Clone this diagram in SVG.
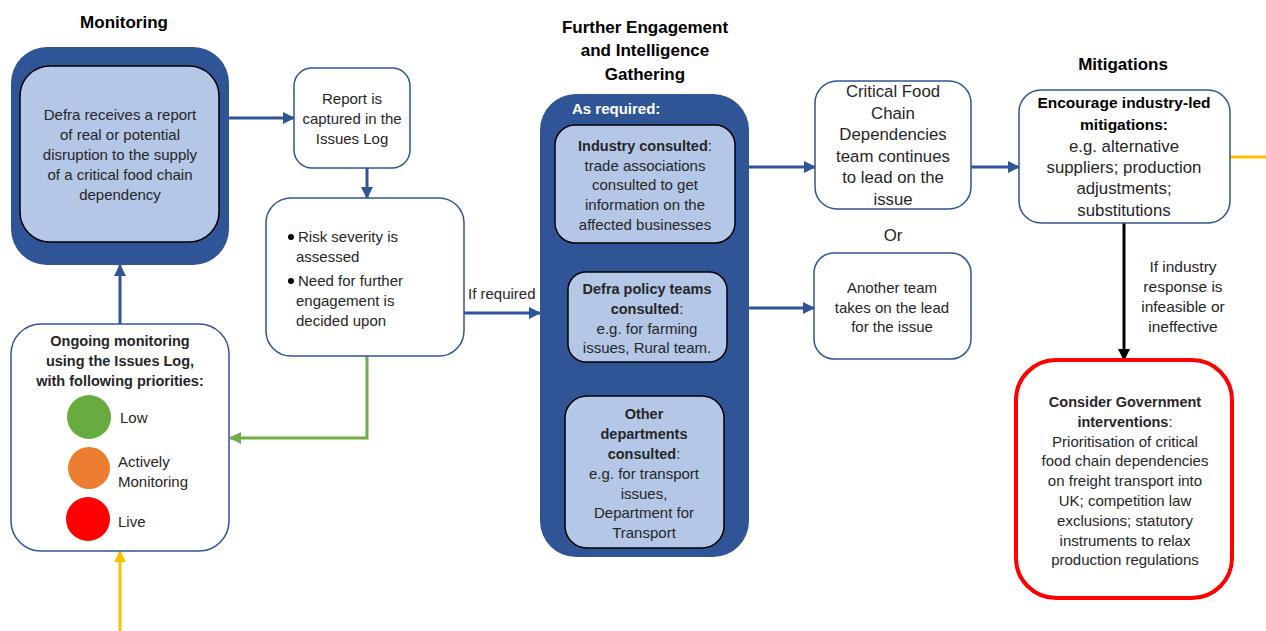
<svg xmlns="http://www.w3.org/2000/svg" width="1266" height="631" viewBox="0 0 1266 631">
<style>
text{font-family:"Liberation Sans",Arial,sans-serif;fill:#262626;text-anchor:middle;font-size:15px}
.h{font-weight:bold;font-size:17px;fill:#000}
.b{font-weight:bold;font-size:14.5px}
.l{text-anchor:start}
.w{fill:#fff;font-weight:bold;text-anchor:start;font-size:15px}
.box{fill:#fff;stroke:#2F5597;stroke-width:1.5}
.dark{fill:#2F5597}
.inner{fill:#B4C7E7;stroke:#000;stroke-width:1.5}
.cb{stroke:#2F5597;stroke-width:3;fill:none}
.cg{stroke:#70AD47;stroke-width:3;fill:none}
.cy{stroke:#FFC000;stroke-width:3;fill:none}
.ck{stroke:#000;stroke-width:3;fill:none}
.big{font-size:16.8px}
.bb{font-weight:bold;font-size:15.5px;fill:#000}
.s{font-size:15.5px}
</style>
<defs>
<marker id="ab" markerUnits="userSpaceOnUse" markerWidth="12" markerHeight="12" refX="11" refY="6" orient="auto"><path d="M0,0 L12,6 L0,12 Z" fill="#2F5597"/></marker>
<marker id="ag" markerUnits="userSpaceOnUse" markerWidth="12" markerHeight="12" refX="11" refY="6" orient="auto"><path d="M0,0 L12,6 L0,12 Z" fill="#70AD47"/></marker>
<marker id="ay" markerUnits="userSpaceOnUse" markerWidth="12" markerHeight="12" refX="11" refY="6" orient="auto"><path d="M0,0 L12,6 L0,12 Z" fill="#FFC000"/></marker>
<marker id="ak" markerUnits="userSpaceOnUse" markerWidth="12" markerHeight="12" refX="11" refY="6" orient="auto"><path d="M0,0 L12,6 L0,12 Z" fill="#000"/></marker>
</defs>

<g id="titles">
<text class="h" x="124" y="28">Monitoring</text>
<text class="h" x="645" y="33">Further Engagement</text>
<text class="h" x="645" y="56">and Intelligence</text>
<text class="h" x="645" y="80">Gathering</text>
<text class="h" x="1123" y="70">Mitigations</text>
</g>

<g id="connectors">
<line class="cb" x1="229" y1="118" x2="294" y2="118" marker-end="url(#ab)"/>
<line class="cb" x1="367" y1="168" x2="367" y2="198" marker-end="url(#ab)"/>
<line class="cb" x1="464" y1="313" x2="540" y2="313" marker-end="url(#ab)"/>
<polyline class="cg" points="367,356 367,438 230,438" marker-end="url(#ag)"/>
<line class="cb" x1="120" y1="324" x2="120" y2="265" marker-end="url(#ab)"/>
<line class="cy" x1="120" y1="631" x2="120" y2="551" marker-end="url(#ay)"/>
<line class="cb" x1="749" y1="167" x2="815" y2="167" marker-end="url(#ab)"/>
<line class="cb" x1="749" y1="308" x2="814" y2="308" marker-end="url(#ab)"/>
<line class="cb" x1="971" y1="167" x2="1019" y2="167" marker-end="url(#ab)"/>
<line class="cy" x1="1230" y1="157" x2="1266" y2="157"/>
<line class="ck" x1="1124" y1="223" x2="1124" y2="360" marker-end="url(#ak)"/>
<text x="468" y="299" class="l">If required</text>
<text x="893" y="241" class="big">Or</text>
<text class="s" x="1183" y="272">If industry</text>
<text class="s" x="1183" y="292">response is</text>
<text class="s" x="1183" y="312">infeasible or</text>
<text class="s" x="1183" y="332">ineffective</text>
</g>

<g id="defra-report">
<rect class="dark" x="11" y="47" width="218" height="218" rx="36"/>
<rect class="inner" x="20" y="66" width="199" height="176" rx="30"/>
<text x="120" y="120">Defra receives  a report</text>
<text x="120" y="140">of real or potential</text>
<text x="120" y="160">disruption to the supply</text>
<text x="120" y="180">of a critical food chain</text>
<text x="120" y="200">dependency</text>
</g>

<g id="captured">
<rect class="box" x="294" y="68" width="116" height="100" rx="18"/>
<text x="352" y="104">Report is</text>
<text x="352" y="124">captured in the</text>
<text x="352" y="144">Issues Log</text>
</g>

<g id="risk">
<rect class="box" x="266" y="198" width="198" height="158" rx="25"/>
<circle cx="291" cy="237" r="3" fill="#000"/>
<text class="l" x="298" y="242">Risk severity is</text>
<text class="l" x="296" y="262">assessed</text>
<circle cx="291" cy="281" r="3" fill="#000"/>
<text class="l" x="298" y="286">Need for further</text>
<text class="l" x="296" y="306">engagement is</text>
<text class="l" x="296" y="326">decided upon</text>
</g>

<g id="ongoing">
<rect class="box" x="11" y="324" width="218" height="227" rx="30"/>
<text class="b" x="120" y="346">Ongoing monitoring</text>
<text class="b" x="120" y="366">using the Issues Log,</text>
<text class="b" x="120" y="386">with following priorities:</text>
<circle cx="89" cy="417" r="22" fill="#6AAB3F"/>
<text class="l" x="120" y="423">Low</text>
<circle cx="89" cy="468" r="21" fill="#ED7D31"/>
<text class="l" x="118" y="467">Actively</text>
<text class="l" x="118" y="487">Monitoring</text>
<circle cx="88" cy="519" r="22" fill="#FF0000"/>
<text class="l" x="118" y="527">Live</text>
</g>

<g id="engagement">
<rect class="dark" x="540" y="94" width="209" height="463" rx="36"/>
<text class="w" x="572" y="114">As required:</text>
</g>

<g id="industry">
<rect class="inner" x="555" y="125" width="180" height="118" rx="20"/>
<text x="645" y="151"><tspan class="b">Industry consulted</tspan>:</text>
<text x="645" y="171">trade associations</text>
<text x="645" y="190">consulted to get</text>
<text x="645" y="210">information on the</text>
<text x="645" y="230">affected businesses</text>
</g>

<g id="policy">
<rect class="inner" x="568" y="272" width="159" height="90" rx="18"/>
<text class="b" x="647" y="294">Defra policy teams</text>
<text x="647" y="314"><tspan class="b">consulted</tspan>:</text>
<text x="647" y="334">e.g. for farming</text>
<text x="647" y="353">issues, Rural team.</text>
</g>

<g id="other">
<rect class="inner" x="565" y="396" width="159" height="152" rx="22"/>
<text class="b" x="644" y="419">Other</text>
<text class="b" x="644" y="439">departments</text>
<text x="644" y="459"><tspan class="b">consulted</tspan>:</text>
<text x="644" y="479">e.g. for transport</text>
<text x="644" y="499">issues,</text>
<text x="644" y="518">Department for</text>
<text x="644" y="538">Transport</text>
</g>

<g id="cfcd-team">
<rect class="box" x="815" y="81" width="156" height="128" rx="22"/>
<text class="big" x="893" y="97">Critical Food</text>
<text class="big" x="893" y="119">Chain</text>
<text class="big" x="893" y="140">Dependencies</text>
<text class="big" x="893" y="162">team continues</text>
<text class="big" x="893" y="183">to lead on the</text>
<text class="big" x="893" y="205">issue</text>
</g>

<g id="another-team">
<rect class="box" x="814" y="253" width="157" height="106" rx="20"/>
<text x="892" y="293">Another team</text>
<text x="892" y="313">takes on the lead</text>
<text x="892" y="332">for the issue</text>
</g>

<g id="industry-led">
<rect class="box" x="1019" y="90" width="211" height="133" rx="22"/>
<text class="bb" x="1124" y="108">Encourage industry-led</text>
<text class="bb" x="1124" y="130">mitigations:</text>
<text class="big" x="1124" y="152">e.g. alternative</text>
<text class="big" x="1124" y="173">suppliers; production</text>
<text class="big" x="1124" y="194">adjustments;</text>
<text class="big" x="1124" y="216">substitutions</text>
</g>

<g id="government">
<rect x="1016" y="360" width="216" height="238" rx="40" fill="#fff" stroke="#FF0000" stroke-width="4"/>
<text class="b" x="1125" y="407">Consider Government</text>
<text x="1125" y="427"><tspan class="b">interventions</tspan>:</text>
<text x="1125" y="447">Prioritisation of critical</text>
<text x="1125" y="466">food chain dependencies</text>
<text x="1125" y="486">on freight transport into</text>
<text x="1125" y="506">UK; competition law</text>
<text x="1125" y="526">exclusions; statutory</text>
<text x="1125" y="546">instruments to relax</text>
<text x="1125" y="565">production regulations</text>
</g>
</svg>
